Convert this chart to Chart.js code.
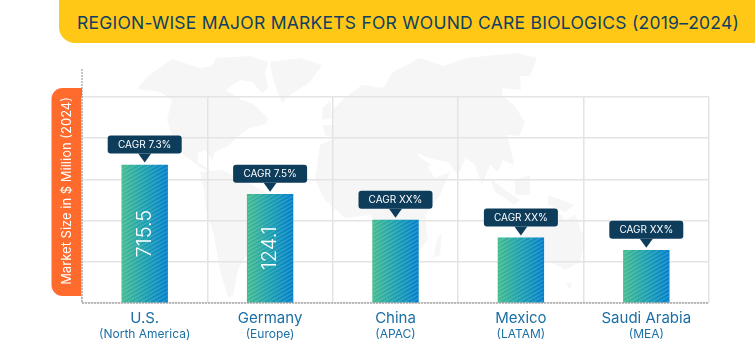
<!DOCTYPE html>
<html>
<head>
<meta charset="utf-8">
<script src="https://cdn.jsdelivr.net/npm/chart.js@4"></script>
<style>
html,body{margin:0;padding:0;background:#fff;width:755px;height:355px;overflow:hidden}
#map{position:absolute;left:0;top:0;width:755px;height:355px}
#banner{position:absolute;left:59px;top:0;right:0;height:43px;background:#ffc816;border-bottom-left-radius:16px}
#title{position:absolute;left:18px;top:12px;white-space:nowrap;font:400 17.5px/22px Inter,sans-serif;color:#0f3f63;letter-spacing:0.24px}
#wrap{position:absolute;left:0;top:0;width:755px;height:355px}
</style>
</head>
<body>
<svg id="map" viewBox="0 0 755 355" fill="#f6f6f6">
<polygon points="137,89 148,76 172,59 200,68 212,66 216,58 250,56 268,62 265,72 268,88 262,93 252,82 240,80 226,90 238,98 255,105 268,118 266,124 250,128 238,136 228,146 215,152 212,160 205,150 198,153 198,162 212,172 205,170 190,160 178,150 172,135 167,120 172,100 160,92 145,90"/>
<polygon points="270,62 300,58 322,65 310,82 290,95 282,103 277,90 272,75"/>
<polygon points="200,172 222,170 240,178 262,190 280,200 276,218 262,232 250,250 238,270 233,295 228,298 220,270 214,235 206,210 204,190"/>
<polygon points="320,145 335,138 370,135 395,140 415,150 435,178 450,172 440,195 425,215 428,240 410,262 395,270 385,255 378,225 370,215 345,218 325,200 315,180"/>
<polygon points="335,125 332,110 345,98 362,85 383,88 393,72 420,58 443,66 467,58 517,53 537,58 530,76 520,76 521,90 502,88 503,97 514,105 525,122 519,136 507,135 511,150 514,165 503,160 498,172 490,165 482,185 475,165 466,158 458,175 448,162 428,158 412,150 420,158 432,165 405,178 390,155 378,142 365,138 350,140 335,138 325,135 323,125"/>
<polygon points="530,225 548,212 560,214 565,220 575,215 585,240 580,262 565,270 550,262 530,262 522,250 520,235"/>
<polygon points="566,283 572,283 570,290"/>
<polygon points="490,178 505,190 520,200 515,205 495,192"/>
<polygon points="515,180 530,175 530,195 515,195"/>
<polygon points="548,195 575,205 565,212 548,205"/>
<polygon points="437,240 442,232 440,255 433,258"/>
<polygon points="323,108 330,100 332,118 322,120"/>
</svg>
<div id="banner"><div id="title">REGION-WISE MAJOR MARKETS FOR WOUND CARE BIOLOGICS (2019–2024)</div></div>
<div id="wrap"><canvas id="c" width="755" height="355"></canvas></div>
<script>
const countries = ["U.S.", "Germany", "China", "Mexico", "Saudi Arabia"];
const regions = ["(North America)", "(Europe)", "(APAC)", "(LATAM)", "(MEA)"];
const barHeights = [3.35, 2.64, 2.01, 1.58, 1.28];
const barLabels = ["715.5", "124.1", "", "", ""];
const cagrLabels = ["CAGR 7.3%", "CAGR 7.5%", "CAGR XX%", "CAGR XX%", "CAGR XX%"];
const yAxisTitle = "Market Size in $ Million (2024)";
const axisFont = "Inter, sans-serif";

const decor = {
  id: "decor",
  beforeDraw(chart) {
    const { ctx, chartArea: a } = chart;
    ctx.save();
    ctx.fillStyle = "#ff6a2d";
    ctx.beginPath();
    ctx.roundRect(a.left - 30.5, a.top - 9, 30.5, 208, [11, 0, 0, 11]);
    ctx.fill();
    ctx.restore();
  },
  afterDraw(chart) {
    const { ctx, chartArea: a } = chart;
    ctx.save();
    ctx.strokeStyle = "#8a8a8a";
    ctx.lineWidth = 1;
    ctx.setLineDash([2, 1]);
    ctx.beginPath();
    ctx.moveTo(a.left, a.top - 28);
    ctx.lineTo(a.left, a.bottom);
    ctx.lineTo(a.right, a.bottom);
    ctx.stroke();
    ctx.restore();
  },
  afterDatasetsDraw(chart) {
    const { ctx } = chart;
    const meta = chart.getDatasetMeta(0);
    meta.data.forEach((bar, i) => {
      const w = bar.width, l = bar.x - w / 2, t = bar.y, h = bar.base - bar.y;
      ctx.save();
      ctx.beginPath();
      ctx.rect(l, t, w, h);
      ctx.clip();
      ctx.strokeStyle = "rgba(255,255,255,0.15)";
      ctx.lineWidth = 1.6;
      for (let y = t - 30; y < t + h + 40; y += 4) {
        ctx.beginPath();
        ctx.moveTo(l, y + 26);
        ctx.lineTo(l + w, y);
        ctx.stroke();
      }
      ctx.restore();

      if (barLabels[i]) {
        ctx.save();
        ctx.translate(bar.x, t + h / 2);
        ctx.rotate(-Math.PI / 2);
        ctx.fillStyle = "#ffffff";
        ctx.font = "300 20px " + axisFont;
        ctx.textAlign = "center";
        ctx.textBaseline = "middle";
        ctx.fillText(barLabels[i], 0, 0);
        ctx.restore();
      }

      const bw = 74, bh = 18, gap = 11.5, tip = 9;
      const bx = bar.x - bw / 2, by = t - gap - bh;
      ctx.save();
      ctx.fillStyle = "#0e3d5c";
      ctx.beginPath();
      ctx.roundRect(bx, by, bw, bh, 3);
      ctx.fill();
      ctx.beginPath();
      ctx.moveTo(bar.x - 6.5, by + bh);
      ctx.lineTo(bar.x + 6.5, by + bh);
      ctx.lineTo(bar.x, by + bh + tip);
      ctx.closePath();
      ctx.fill();
      ctx.fillStyle = "#ffffff";
      ctx.font = "400 10px " + axisFont;
      ctx.textAlign = "center";
      ctx.textBaseline = "middle";
      ctx.fillText(cagrLabels[i], bar.x, by + bh / 2 + 0.5);
      ctx.restore();
    });
  }
};

new Chart(document.getElementById("c"), {
  type: "bar",
  plugins: [decor],
  data: {
    labels: countries,
    datasets: [{
      data: barHeights,
      barThickness: 45.7,
      backgroundColor(context) {
        const chart = context.chart;
        if (!chart.chartArea) return "#2ba5ad";
        const cx = chart.scales.x.getPixelForValue(context.dataIndex);
        const g = chart.ctx.createLinearGradient(cx - 23, 0, cx + 23, 0);
        g.addColorStop(0, "#42bb8e");
        g.addColorStop(0.5, "#1a9fb0");
        g.addColorStop(1, "#007fca");
        return g;
      }
    }]
  },
  options: {
    responsive: false,
    animation: false,
    layout: { padding: { top: 97, left: 56, right: 46, bottom: 8 } },
    plugins: { legend: { display: false }, tooltip: { enabled: false }, title: { display: false } },
    scales: {
      x: {
        type: "category",
        position: "bottom",
        offset: true,
        grid: { color: "#e4e4e4", lineWidth: 1.5, offset: true, drawTicks: false },
        border: { display: false },
        ticks: { color: "#1b6fa5", font: { family: axisFont, size: 15 }, padding: 6, maxRotation: 0, autoSkip: false },
        afterFit(s) { s.height = 24; }
      },
      x2: {
        type: "category",
        position: "bottom",
        labels: regions,
        offset: true,
        grid: { display: false, drawTicks: false },
        border: { display: false },
        ticks: { color: "#1b6fa5", font: { family: axisFont, size: 12 }, padding: 0, maxRotation: 0, autoSkip: false },
        afterFit(s) { s.height = 20; }
      },
      y: {
        min: 0,
        max: 5,
        grid: { color: "#e4e4e4", lineWidth: 1.5, drawTicks: false },
        border: { display: false },
        ticks: { display: false, stepSize: 1 },
        title: { display: true, text: yAxisTitle, align: "end", color: "#ffffff", font: { family: axisFont, size: 13 }, padding: { top: 3, bottom: 0 } },
        afterFit(s) { s.width = 26; }
      }
    }
  }
});
</script>
</body>
</html>
